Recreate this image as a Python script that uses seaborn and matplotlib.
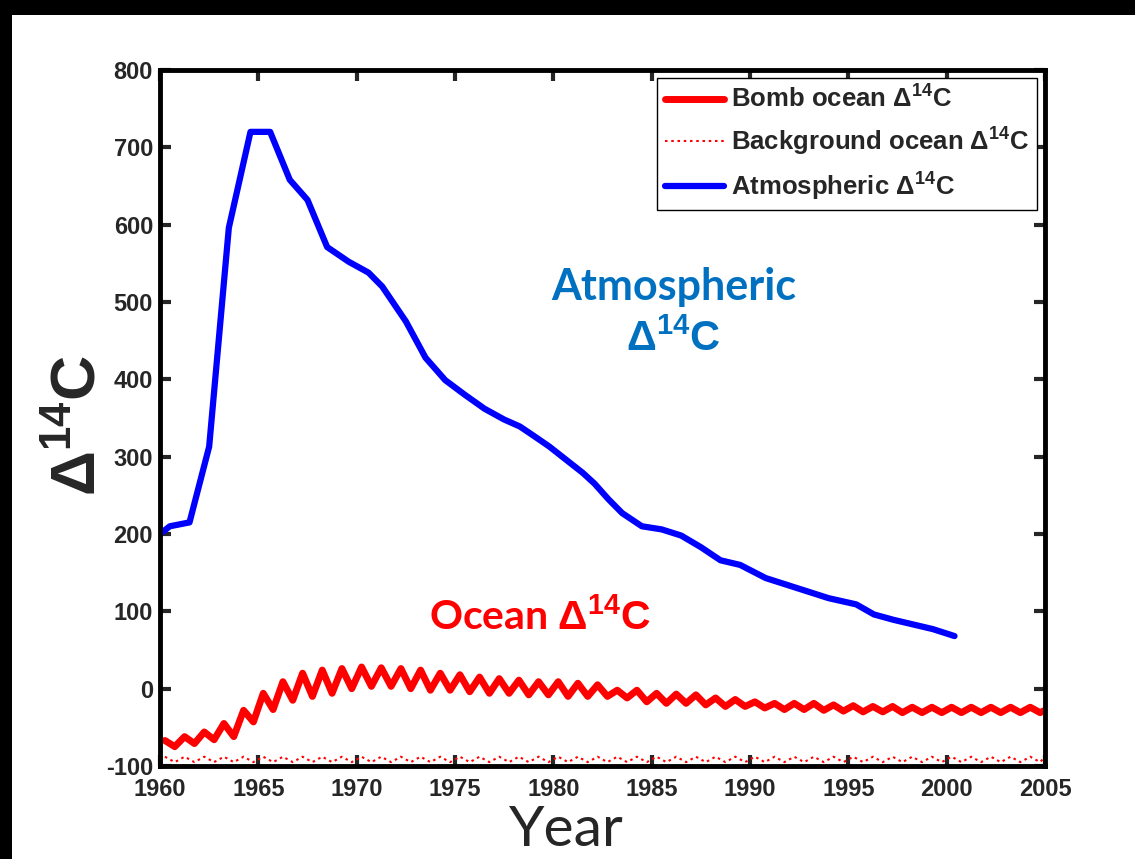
import numpy as np
import pandas as pd
import seaborn as sns
import matplotlib.pyplot as plt
from matplotlib.patches import Rectangle

sns.set_style('ticks')
plt.rcParams['font.family'] = ['Liberation Sans', 'DejaVu Sans']
plt.rcParams['font.weight'] = 'bold'
plt.rcParams['axes.unicode_minus'] = False
plt.rcParams['mathtext.fontset'] = 'custom'
plt.rcParams['mathtext.rm'] = 'Liberation Sans'
plt.rcParams['mathtext.bf'] = 'Liberation Sans:bold'
plt.rcParams['mathtext.it'] = 'Liberation Sans:italic'

# atmospheric D14C
atm_year = [1960.0, 1960.5, 1961.5, 1962.5, 1963.5, 1964.6, 1965.6, 1966.6, 1967.5,
            1968.5, 1969.6, 1970.6, 1971.3, 1972.5, 1973.5, 1974.5, 1975.5, 1976.5,
            1977.5, 1978.3, 1979.0, 1979.8, 1980.7, 1981.5, 1982.1, 1982.8, 1983.5,
            1984.5, 1985.5, 1986.5, 1987.5, 1988.5, 1989.5, 1990.8, 1992.4, 1994.0,
            1995.4, 1996.3, 1997.3, 1998.3, 1999.3, 2000.4]
atm_val = [200, 210, 215, 313, 596, 720, 720, 658, 632,
           571, 552, 538, 520, 475, 428, 399, 380, 362,
           348, 339, 327, 313, 295, 279, 265, 245, 227,
           210, 206, 198, 183, 166, 160, 143, 130, 117,
           109, 96, 89, 83, 77, 68]

# bomb ocean D14C: seasonal highs (~yr+0.25) and lows (~yr+0.75), 1960..2004
ocean_years = list(range(1960, 2005))
ocean_high = [-67, -62, -56, -45, -28, -6, 9, 20, 24, 26,
              28, 27, 26, 24, 20, 18, 15, 13, 11, 9,
              9, 7, 5, -2, -2, -6, -7, -8, -12, -14,
              -17, -19, -19, -19, -21, -22, -23, -23, -24, -24,
              -24, -24, -24, -24, -24]
ocean_low = [-75, -71, -66, -62, -43, -27, -15, -10, -6, 0,
             3, 3, 0, -2, -2, -4, -6, -6, -8, -8,
             -10, -10, -10, -12, -17, -19, -19, -21, -23, -23,
             -25, -27, -27, -28, -29, -30, -30, -31, -31, -31,
             -31, -31, -31, -31, -31]
ocean_end = -28

# background ocean D14C (dotted, near the bottom)
bg_high = [-88, -88, -88, -88, -88, -88, -88, -88, -88, -88,
           -88, -88, -88, -88, -88, -88, -88, -88, -88, -88,
           -88, -88, -88, -88, -88, -88, -88, -88, -88, -88,
           -88, -88, -88, -88, -88, -88, -88, -88, -88, -88,
           -88, -88, -88, -88, -88]
bg_low = [-95, -95, -95, -95, -95, -95, -95, -95, -95, -95,
          -95, -95, -95, -95, -95, -95, -95, -95, -95, -95,
          -95, -95, -95, -95, -95, -95, -95, -95, -95, -95,
          -95, -95, -95, -95, -95, -95, -95, -95, -95, -95,
          -95, -95, -95, -95, -95]

x_ticks = [1960, 1965, 1970, 1975, 1980, 1985, 1990, 1995, 2000, 2005]
y_ticks = [-100, 0, 100, 200, 300, 400, 500, 600, 700, 800]

ox, oy, bx, by = [], [], [], []
for i, yr in enumerate(ocean_years):
    ox += [yr + 0.25, yr + 0.75]
    oy += [ocean_high[i], ocean_low[i]]
    bx += [yr + 0.25, yr + 0.75]
    by += [bg_high[i], bg_low[i]]
ox.append(2005.0)
oy.append(ocean_end)
bx.append(2005.0)
by.append(bg_high[-1])

ocean = pd.DataFrame({'year': ox, 'val': oy})
bg = pd.DataFrame({'year': bx, 'val': by})
atm = pd.DataFrame({'year': atm_year, 'val': atm_val})

fig = plt.figure(figsize=(11.35, 8.59), dpi=100)
ax = fig.add_axes([160/1135, 1-766/859, 885/1135, 696/859])

sns.lineplot(data=ocean, x='year', y='val', ax=ax, color='#ff0000', lw=5,
             label=r'Bomb ocean $\Delta^{\mathbf{14}}\mathbf{C}$',
             solid_joinstyle='round')
sns.lineplot(data=bg, x='year', y='val', ax=ax, color='#ff0000', lw=1.5,
             dashes=False, linestyle=(0, (1.2, 1.8)),
             label=r'Background ocean $\Delta^{\mathbf{14}}\mathbf{C}$')
sns.lineplot(data=atm, x='year', y='val', ax=ax, color='#0000ff', lw=4.5,
             label=r'Atmospheric $\Delta^{\mathbf{14}}\mathbf{C}$',
             solid_joinstyle='round')

ax.set_xlim(1960, 2005)
ax.set_ylim(-100, 800)
ax.set_xticks(x_ticks)
ax.set_yticks(y_ticks)
ax.set_xlabel('')
ax.set_ylabel('')
ax.tick_params(direction='in', length=8, width=3, labelsize=17, pad=5,
               top=True, right=True)
ax.tick_params(axis='x', pad=9)
for lab in ax.get_xticklabels() + ax.get_yticklabels():
    lab.set_fontweight('bold')
for s in ax.spines.values():
    s.set_linewidth(3.5)
    s.set_color('black')
    s.set_visible(True)

leg = ax.legend(loc='upper right', fontsize=18.5, frameon=True, fancybox=False,
                edgecolor='black', framealpha=1, handlelength=2.3,
                borderaxespad=0.3, labelspacing=0.5, handletextpad=0.3,
                borderpad=0.3)
leg.get_frame().set_linewidth(1.0)
for t in leg.get_texts():
    t.set_fontweight('bold')

ann = ['Lato', 'DejaVu Sans']
ax.text(1986.1, 519, 'Atmospheric', color='#0070c0', fontsize=31,
        fontweight='bold', family=ann, ha='center', va='center')
ax.text(1986.1, 451, r'$\mathbf{\Delta^{14}C}$', color='#0070c0', fontsize=30,
        ha='center', va='center')
ax.text(1979.3, 93, r'Ocean $\mathbf{\Delta^{14}C}$', color='#ff0000', fontsize=29.5,
        fontweight='bold', family=ann, ha='center', va='center')

fig.text(78/1135, 1-425/859, r'$\mathbf{\Delta^{14}C}$', rotation=90,
         fontsize=45, ha='center', va='center')

fig.text(566/1135, 1-846/859, 'Year', fontsize=41, fontweight='normal',
         family=ann, ha='center', va='baseline', zorder=3)

fig.add_artist(Rectangle((0, 1-15/859), 1, 15/859, transform=fig.transFigure,
                         facecolor='black', edgecolor='none', zorder=5))
fig.add_artist(Rectangle((0, 0), 12/1135, 1, transform=fig.transFigure,
                         facecolor='black', edgecolor='none', zorder=5))

fig.savefig('out.png', dpi=100)
